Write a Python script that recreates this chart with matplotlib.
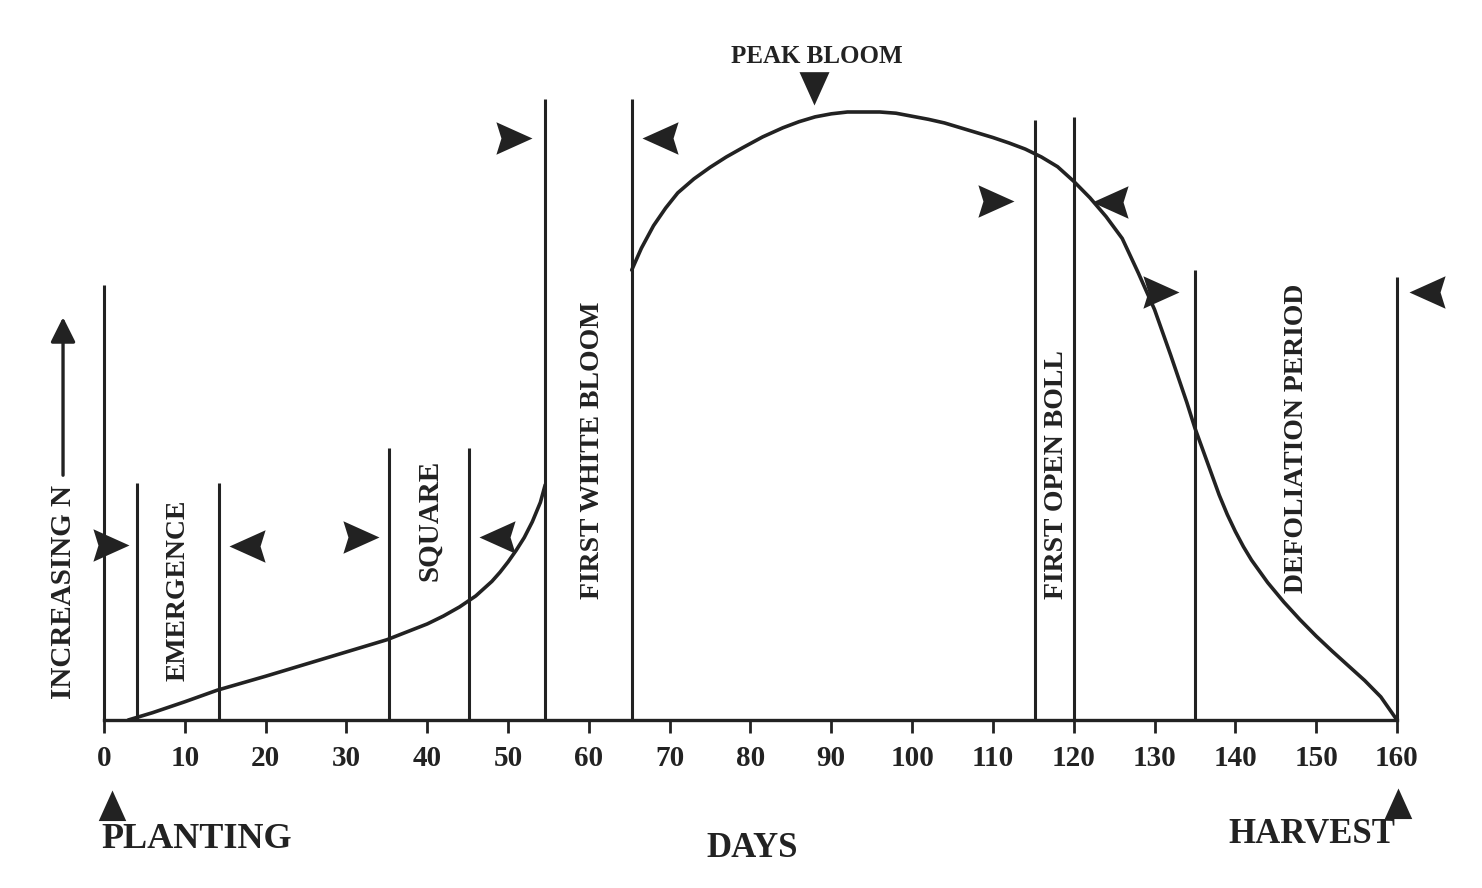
import matplotlib
matplotlib.use('Agg')
import matplotlib.pyplot as plt
from matplotlib.path import Path

plt.rcParams['font.family'] = ['Liberation Serif', 'DejaVu Serif']
plt.rcParams['font.weight'] = 'bold'

INK = '#222222'

# N uptake curve (days, relative level 0-100)
early_days = [3, 6, 10, 14, 20, 25, 30, 35, 40, 42, 44, 46, 48, 49, 50, 51, 52, 53, 54, 54.6]
early_level = [0, 1.2, 3.0, 4.9, 7.2, 9.2, 11.2, 13.2, 15.8, 17.1, 18.6, 20.4, 22.8, 24.3,
               26.0, 27.9, 30.0, 32.6, 35.8, 38.7]

late_days = [65.3, 66.5, 68, 69.5, 71, 73, 75, 77, 79, 81.5, 84, 86, 88, 90, 92, 94, 96,
             98, 100, 102, 104, 106, 108, 110, 112, 114, 116, 118, 120, 122, 124, 126,
             128, 130, 132, 134, 135, 136.5, 138, 139, 140, 141, 142, 144, 146, 148, 150,
             152, 154, 156, 158, 160]
late_level = [74.0, 77.6, 81.3, 84.2, 86.7, 89.0, 90.9, 92.6, 94.1, 95.9, 97.4, 98.4,
              99.2, 99.7, 100, 100, 100, 99.8, 99.3, 98.8, 98.2, 97.4, 96.6, 95.8, 94.9,
              93.9, 92.6, 91.0, 88.6, 85.9, 82.8, 79.2, 73.5, 67.5, 60.0, 52.2, 48.0,
              42.5, 37.0, 33.8, 31.0, 28.5, 26.3, 22.6, 19.4, 16.5, 13.8, 11.3, 8.9, 6.5,
              3.8, 0]

# stage boundary lines (day, top of line)
stage_days = [0, 4.1, 14.2, 35.3, 45.2, 54.6, 65.3, 115.2, 120, 135, 160]
stage_tops = [71.5, 39.0, 39.0, 44.7, 44.7, 102.1, 102.1, 98.7, 99.2, 74.0, 72.9]

# arrowheads pointing at the boundary lines (tip day, tip level, direction)
pointer_days = [3.1, 15.5, 34.0, 46.4, 53.0, 66.6, 112.6, 122.3, 133.0, 161.5]
pointer_level = [28.8, 28.6, 30.1, 30.1, 95.7, 95.7, 85.4, 85.2, 70.4, 70.4]
pointer_dir = ['>', '<', '>', '<', '>', '<', '>', '<', '>', '<']

# rotated stage labels (centre day, centre level)
stage_labels = ['EMERGENCE', 'SQUARE', 'FIRST WHITE BLOOM', 'FIRST OPEN BOLL', 'DEFOLIATION PERIOD']
label_days = [9.2, 40.3, 60.4, 117.9, 147.6]
label_level = [21.4, 32.9, 44.4, 40.3, 46.4]
label_sizes = [20, 21, 20, 20, 20]

tick_days = list(range(0, 161, 10))


# arrowhead marker with its tip at the origin
def head(direction, notch=0.86):
    base = [(0, 0), (-1, 0.45), (-notch, 0), (-1, -0.45), (0, 0)]
    if direction == '<':
        base = [(-x, y) for x, y in base]
    elif direction == 'v':
        base = [(y, -x) for x, y in base]
    elif direction == '^':
        base = [(y, x) for x, y in base]
    return Path(base, [Path.MOVETO] + [Path.LINETO] * 3 + [Path.CLOSEPOLY])


fig = plt.figure(figsize=(14.82, 8.88), dpi=100, facecolor='white')
ax = fig.add_axes([0, 0, 1, 1])
ax.set_xlim(-12.87, 170.52)
ax.set_ylim(-27.63, 118.42)

for s in ['top', 'right', 'left']:
    ax.spines[s].set_visible(False)
ax.spines['bottom'].set_position(('data', 0))
ax.spines['bottom'].set_bounds(0, 160)
ax.spines['bottom'].set_linewidth(2.4)
ax.spines['bottom'].set_color(INK)
ax.set_yticks([])
ax.set_xticks(tick_days)
ax.set_xticklabels([str(d) for d in tick_days], fontsize=21, fontweight='bold')
ax.tick_params(axis='x', direction='out', length=9, width=2, pad=9, colors=INK)
ax.patch.set_alpha(0)

ax.vlines(stage_days, 0, stage_tops, color=INK, lw=2.2)
ax.plot(early_days, early_level, color=INK, lw=2.6, solid_capstyle='round',
        solid_joinstyle='round')
ax.plot(late_days, late_level, color=INK, lw=2.6, solid_capstyle='round',
        solid_joinstyle='round')

for d, lv, dr in zip(pointer_days, pointer_level, pointer_dir):
    ax.plot(d, lv, marker=head(dr), markersize=52, color=INK, markeredgewidth=0)

for txt, d, lv, fs in zip(stage_labels, label_days, label_level, label_sizes):
    ax.text(d, lv, txt, rotation=90, ha='center', va='center', fontsize=fs,
            fontweight='bold', color=INK)

# y direction indicator
ax.text(-5.0, 21.0, 'INCREASING N', rotation=90, ha='center', va='center',
        fontsize=21, fontweight='bold', color=INK)
ax.annotate('', xy=(-5.07, 66.7), xytext=(-5.07, 39.8),
            arrowprops=dict(arrowstyle='-|>', lw=2.4, color=INK, mutation_scale=38))

# peak bloom marker
ax.text(88.2, 109.2, 'PEAK BLOOM', ha='center', va='center', fontsize=18,
        fontweight='bold', color=INK)
ax.plot(87.9, 101.2, marker=head('v', 1.0), markersize=48, color=INK, markeredgewidth=0)

# planting / harvest markers
ax.plot(1.0, -11.5, marker=head('^', 1.0), markersize=44, color=INK, markeredgewidth=0)
ax.plot(160.1, -11.2, marker=head('^', 1.0), markersize=44, color=INK, markeredgewidth=0)
ax.text(11.5, -19.7, 'PLANTING', ha='center', va='center', fontsize=26,
        fontweight='bold', color=INK)
ax.text(80.2, -21.1, 'DAYS', ha='center', va='center', fontsize=25,
        fontweight='bold', color=INK)
ax.text(149.4, -18.9, 'HARVEST', ha='center', va='center', fontsize=25,
        fontweight='bold', color=INK)

plt.savefig('out.png', dpi=100, facecolor='white')
plt.close()
